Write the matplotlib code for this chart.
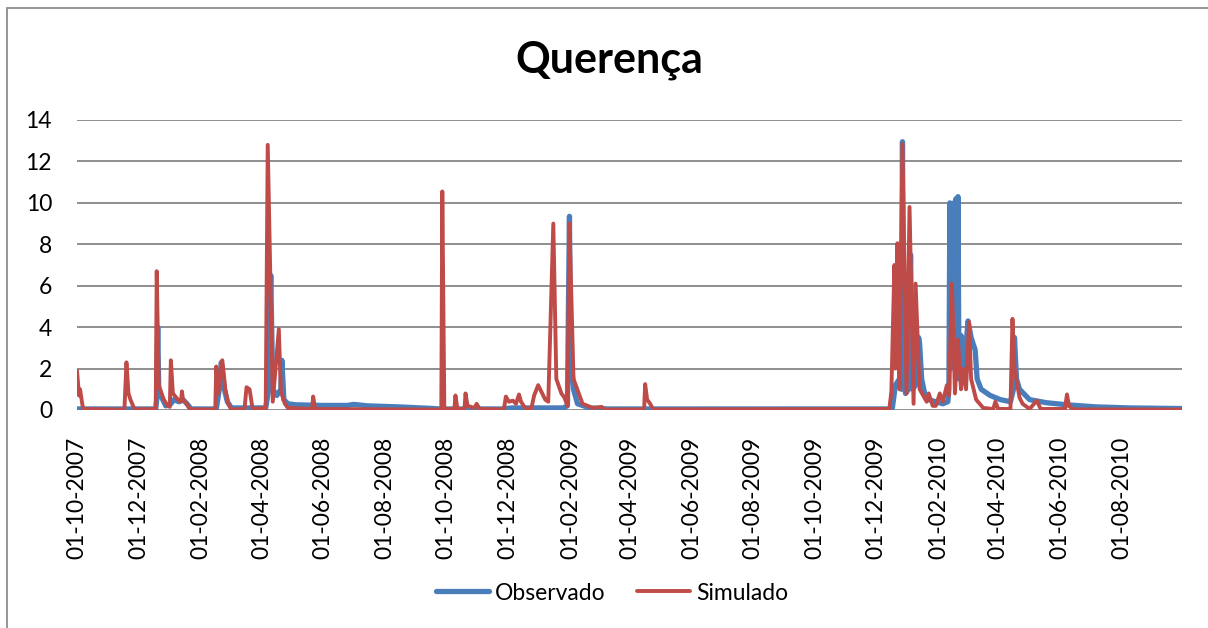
import matplotlib
matplotlib.use("Agg")
import matplotlib.pyplot as plt
import matplotlib.dates as mdates
from matplotlib.patches import Rectangle
import pandas as pd

plt.rcParams["font.family"] = ["Lato", "DejaVu Sans"]

# Observed flow (key points of the daily series)
obs_dates = [
    "2007-10-01", "2007-12-18", "2007-12-19", "2007-12-20", "2007-12-21", "2007-12-24",
    "2007-12-28", "2008-01-02", "2008-01-05", "2008-01-10", "2008-01-14", "2008-01-18",
    "2008-01-22", "2008-02-16", "2008-02-19", "2008-02-21", "2008-02-24", "2008-02-27",
    "2008-03-02", "2008-04-05", "2008-04-08", "2008-04-10", "2008-04-12", "2008-04-16",
    "2008-04-20", "2008-04-21", "2008-04-23", "2008-04-27", "2008-05-05", "2008-06-01",
    "2008-06-25", "2008-07-01", "2008-07-15", "2008-08-15", "2008-09-15", "2008-09-25",
    "2008-11-25", "2008-12-05", "2009-01-25", "2009-01-29", "2009-01-30", "2009-01-31",
    "2009-02-01", "2009-02-04", "2009-02-08", "2009-02-20", "2009-03-10", "2009-12-14",
    "2009-12-17", "2009-12-20", "2009-12-24", "2009-12-26", "2009-12-27", "2009-12-28",
    "2009-12-30", "2010-01-02", "2010-01-04", "2010-01-06", "2010-01-09", "2010-01-12",
    "2010-01-13", "2010-01-15", "2010-01-18", "2010-01-22", "2010-02-05", "2010-02-10",
    "2010-02-11", "2010-02-12", "2010-02-13", "2010-02-14", "2010-02-15", "2010-02-16",
    "2010-02-17", "2010-02-18", "2010-02-19", "2010-02-20", "2010-02-21", "2010-02-23",
    "2010-02-26", "2010-03-02", "2010-03-05", "2010-03-09", "2010-03-11", "2010-03-15",
    "2010-03-24", "2010-04-03", "2010-04-13", "2010-04-16", "2010-04-17", "2010-04-19",
    "2010-04-22", "2010-05-02", "2010-05-19", "2010-06-08", "2010-07-07", "2010-08-09",
    "2010-09-30",
]
obs_values = [
    0.05, 0.05, 0.5, 4.0, 1.0, 0.6,
    0.2, 0.3, 0.5, 0.4, 0.5, 0.3,
    0.05, 0.05, 1.0, 2.3, 1.0, 0.4,
    0.1, 0.1, 1.0, 6.5, 1.0, 0.7,
    1.0, 2.4, 0.5, 0.3, 0.25, 0.22,
    0.22, 0.27, 0.2, 0.15, 0.08, 0.05,
    0.05, 0.1, 0.1, 0.2, 5.0, 9.35,
    3.0, 1.0, 0.3, 0.1, 0.05, 0.05,
    0.1, 1.2, 1.5, 1.0, 12.95, 3.0,
    0.8, 1.0, 7.5, 1.0, 1.2, 3.5,
    3.2, 1.5, 0.8, 0.5, 0.3, 0.4,
    1.0, 10.0, 2.0, 9.9, 2.5, 10.0,
    3.0, 10.2, 3.0, 10.3, 1.5, 3.6,
    2.0, 4.3, 3.5, 2.9, 1.5, 1.0,
    0.7, 0.5, 0.4, 1.0, 3.5, 1.5,
    1.0, 0.5, 0.35, 0.25, 0.15, 0.1,
    0.07,
]

# Simulated flow
sim_dates = [
    "2007-10-01", "2007-10-03", "2007-10-04", "2007-10-07", "2007-11-17", "2007-11-19",
    "2007-11-21", "2007-11-23", "2007-11-27", "2007-12-18", "2007-12-19", "2007-12-21",
    "2007-12-26", "2007-12-30", "2008-01-01", "2008-01-02", "2008-01-04", "2008-01-09",
    "2008-01-12", "2008-01-13", "2008-01-14", "2008-01-17", "2008-01-21", "2008-02-15",
    "2008-02-16", "2008-02-18", "2008-02-22", "2008-02-25", "2008-02-28", "2008-03-02",
    "2008-03-15", "2008-03-17", "2008-03-20", "2008-03-23", "2008-04-05", "2008-04-07",
    "2008-04-12", "2008-04-18", "2008-04-20", "2008-04-24", "2008-04-27", "2008-05-21",
    "2008-05-22", "2008-05-24", "2008-09-26", "2008-09-27", "2008-09-29", "2008-10-09",
    "2008-10-10", "2008-10-12", "2008-10-19", "2008-10-20", "2008-10-22", "2008-10-29",
    "2008-10-31", "2008-11-03", "2008-11-27", "2008-11-29", "2008-12-02", "2008-12-06",
    "2008-12-09", "2008-12-12", "2008-12-14", "2008-12-18", "2008-12-24", "2008-12-27",
    "2008-12-31", "2009-01-07", "2009-01-10", "2009-01-15", "2009-01-18", "2009-01-23",
    "2009-01-26", "2009-01-29", "2009-01-31", "2009-02-04", "2009-02-13", "2009-02-23",
    "2009-03-04", "2009-03-07", "2009-04-15", "2009-04-16", "2009-04-18", "2009-04-21",
    "2009-04-24", "2009-12-14", "2009-12-16", "2009-12-19", "2009-12-20", "2009-12-22",
    "2009-12-24", "2009-12-27", "2009-12-31", "2010-01-03", "2010-01-07", "2010-01-09",
    "2010-01-13", "2010-01-20", "2010-01-22", "2010-01-26", "2010-01-29", "2010-02-02",
    "2010-02-05", "2010-02-09", "2010-02-11", "2010-02-14", "2010-02-17", "2010-02-20",
    "2010-02-23", "2010-02-25", "2010-02-28", "2010-03-03", "2010-03-05", "2010-03-10",
    "2010-03-17", "2010-03-27", "2010-03-29", "2010-04-01", "2010-04-13", "2010-04-15",
    "2010-04-17", "2010-04-22", "2010-04-25", "2010-05-02", "2010-05-09", "2010-05-13",
    "2010-06-06", "2010-06-08", "2010-06-10", "2010-06-14", "2010-09-30",
]
sim_values = [
    1.9, 0.7, 1.0, 0.05, 0.02, 2.3,
    0.8, 0.5, 0.03, 0.05, 6.7, 1.2,
    0.5, 0.2, 0.15, 2.4, 0.8, 0.5,
    0.4, 0.9, 0.5, 0.35, 0.03, 0.03,
    2.1, 0.8, 2.4, 1.0, 0.3, 0.02,
    0.05, 1.1, 1.0, 0.05, 0.1, 12.8,
    0.4, 3.9, 0.9, 0.3, 0.1, 0.05,
    0.65, 0.05, 0.02, 10.55, 0.05, 0.05,
    0.7, 0.05, 0.05, 0.8, 0.2, 0.1,
    0.3, 0.05, 0.03, 0.65, 0.4, 0.45,
    0.3, 0.75, 0.4, 0.1, 0.02, 0.7,
    1.2, 0.5, 0.4, 9.0, 1.5, 0.8,
    0.6, 0.2, 9.0, 1.5, 0.3, 0.1,
    0.15, 0.02, 0.03, 1.25, 0.5, 0.3,
    0.03, 0.05, 0.9, 7.0, 2.0, 8.05,
    1.0, 12.85, 0.8, 9.8, 0.3, 6.1,
    1.0, 0.4, 0.8, 0.2, 0.2, 0.8,
    0.4, 1.2, 0.7, 6.1, 0.8, 3.4,
    1.0, 2.0, 1.0, 4.25, 1.5, 0.5,
    0.1, 0.05, 0.4, 0.05, 0.05, 4.4,
    2.0, 0.6, 0.3, 0.05, 0.45, 0.05,
    0.05, 0.75, 0.2, 0.03, 0.02,
]

# date labels every two months
tick_dates = pd.date_range("2007-10-01", "2010-08-01", freq="2MS")

BLUE = "#4A7EBB"
RED = "#BE4B48"
GRID = "#868686"
FS = 16.5

fig = plt.figure(figsize=(12.08, 6.28), dpi=100)
ax = fig.add_axes([77 / 1208, 1 - 410 / 628, (1182 - 77) / 1208, 290 / 628])

ax.plot(pd.to_datetime(obs_dates), obs_values, color=BLUE, lw=3.8,
        solid_joinstyle="round", solid_capstyle="round", label="Observado", zorder=3)
ax.plot(pd.to_datetime(sim_dates), sim_values, color=RED, lw=2.8,
        solid_joinstyle="round", solid_capstyle="round", label="Simulado", zorder=4)

ax.set_ylim(0, 14)
ax.set_yticks(range(0, 15, 2))
ax.set_xlim(pd.Timestamp("2007-10-01"), pd.Timestamp("2010-09-30"))
ax.set_xticks(tick_dates)
ax.xaxis.set_major_formatter(mdates.DateFormatter("%d-%m-%Y"))
ax.tick_params(axis="x", rotation=90, length=0, pad=19, labelsize=FS)
ax.tick_params(axis="y", length=0, pad=18, labelsize=FS)

ax.grid(axis="y", color=GRID, lw=1.3)
ax.set_axisbelow(True)
for side in ax.spines.values():
    side.set_visible(False)

fig.text(609 / 1208, 1 - 60 / 628, "Querença", ha="center", va="center",
         fontsize=31, fontweight="bold")

fig.legend(loc="center", bbox_to_anchor=(612 / 1208, 1 - 593 / 628), ncol=2,
           frameon=False, fontsize=FS, handlelength=2.3, handletextpad=0.25,
           columnspacing=1.4)

# chart frame
fig.patches.append(Rectangle((7 / 1208, -0.05), 1.05, 1 - 8 / 628 + 0.05,
                             transform=fig.transFigure, fill=False,
                             edgecolor="#8C8C8C", lw=1.3))

fig.savefig("out.png", dpi=100)
